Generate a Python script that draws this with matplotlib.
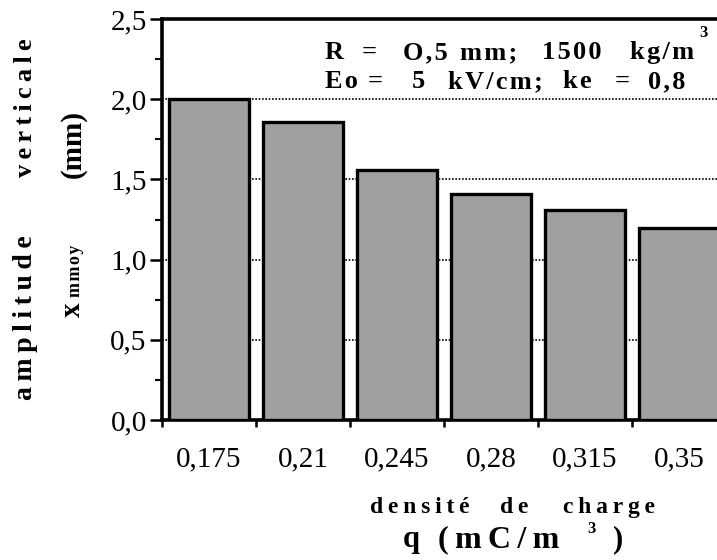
import numpy as np
import matplotlib
matplotlib.use('Agg')
import matplotlib.pyplot as plt
from matplotlib.ticker import MultipleLocator

# charge density (mC/m^3) and mean vertical amplitude (mm)
densites = ['0,175', '0,21', '0,245', '0,28', '0,315', '0,35']
amplitudes = [2.0, 1.86, 1.56, 1.41, 1.31, 1.2]
yticks = [0.0, 0.5, 1.0, 1.5, 2.0, 2.5]
ytick_labels = ['0,0', '0,5', '1,0', '1,5', '2,0', '2,5']

plt.rcParams['font.family'] = ['Liberation Serif', 'DejaVu Serif']

W, H = 717, 560
fig = plt.figure(figsize=(W / 100, H / 100), dpi=100)
ax = fig.add_axes([162 / W, 140 / H, 564 / W, 401 / H])


def spaced(s, sep='\u2009'):
    return sep.join(s)


def put(px, py, s, size, rot=0, **kw):
    # place a word by pixel position of its baseline start
    fig.text(px / W, 1 - py / H, s, fontsize=size, fontweight='bold',
             rotation=rot, rotation_mode='anchor', ha='left', va='baseline', **kw)


x = np.arange(len(densites))
ax.bar(x, amplitudes, width=0.85, color='#a0a0a0', edgecolor='black',
       linewidth=2.4, zorder=3)

# dotted reference lines behind the bars
for yv in yticks[1:-1]:
    ax.axhline(yv, color='black', linestyle=(0, (1, 1)), linewidth=1.2, zorder=1)

ax.set_xlim(-0.5, 5.5)
ax.set_ylim(0, 2.5)

ax.set_yticks(yticks)
ax.set_yticklabels(ytick_labels)
ax.yaxis.set_minor_locator(MultipleLocator(0.25))
ax.tick_params(axis='y', which='major', length=9, width=1.8, direction='out',
               labelsize=21, pad=2)
ax.tick_params(axis='y', which='minor', length=5, width=1.5, direction='out')

# ticks sit at category boundaries, labels under each bar
ax.set_xticks(x - 0.5)
ax.set_xticklabels([])
ax.set_xticks(x, minor=True)
ax.set_xticklabels(densites, minor=True)
ax.tick_params(axis='x', which='major', length=5, width=1.8, direction='out')
ax.tick_params(axis='x', which='minor', length=0, labelsize=21, pad=19)

for side in ['left', 'bottom', 'top']:
    ax.spines[side].set_linewidth(2.6)
ax.spines['right'].set_visible(False)

# experimental conditions
hair = '\u200a'
line1 = [(325, 'R'), (362, '='), (403, 'O,5'), (460, 'mm;'), (542, '1500'), (630, 'kg/m')]
line2 = [(325, 'Eo'), (368, '='), (412, '5'), (448, 'kV/cm;'), (563, 'ke'), (615, '='), (648, '0,8')]
for px, w in line1:
    put(px, 59, spaced(w, hair), 19)
put(699, 37, '3', 12)
for px, w in line2:
    put(px, 88, spaced(w, hair), 19)

# y axis title, two rotated lines
put(32, 400, spaced('amplitude'), 20, rot=90)
put(32, 177, spaced('verticale'), 19, rot=90)
put(80, 317, 'x', 21, rot=90)
put(80, 297, spaced('mmoy', hair), 13, rot=90)
put(80, 178, '(mm)', 21, rot=90)

# x axis title
put(370, 513, spaced('densité'), 17)
put(500, 513, spaced('de'), 17)
put(563, 513, spaced('charge'), 17)
put(403, 547, 'q', 22)
put(438, 547, spaced('(mC/m'), 23)
put(587, 533, '3', 12)
put(613, 547, ')', 22)

fig.savefig('out.png', dpi=100)
